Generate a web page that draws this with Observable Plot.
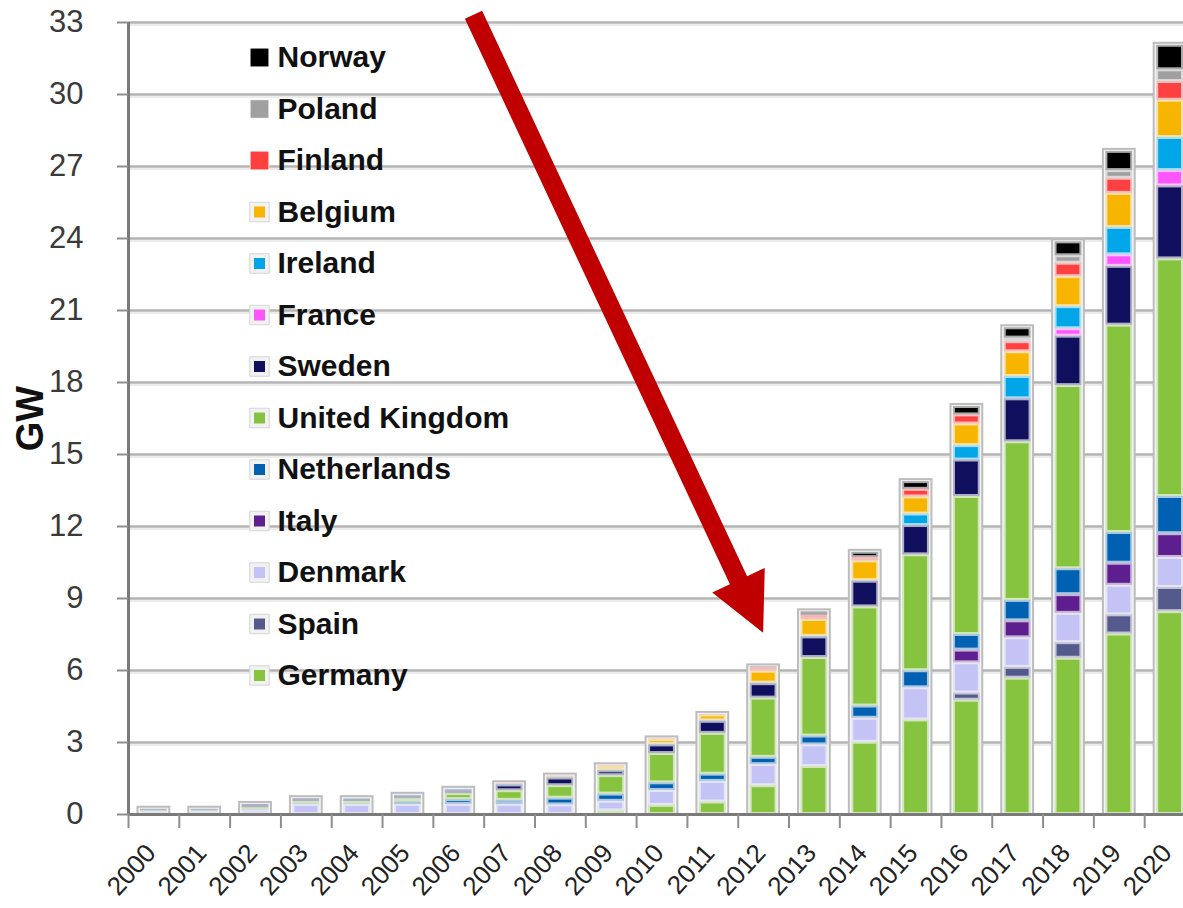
<!DOCTYPE html>
<html>
<head>
<meta charset="utf-8">
<script src="https://cdn.jsdelivr.net/npm/d3@7"></script>
<script src="https://cdn.jsdelivr.net/npm/@observablehq/plot@0.6"></script>
<style>
  html, body { margin: 0; padding: 0; background: #fff; }
  #chart { width: 1183px; height: 908px; overflow: hidden; }
</style>
</head>
<body>
<div id="chart"></div>
<script>
// ---------- data (GW) ----------
const years = d3.range(2000, 2021).map(String);
const countries = ["Germany", "Spain", "Denmark", "Italy", "Netherlands", "United Kingdom",
  "Sweden", "France", "Ireland", "Belgium", "Finland", "Poland", "Norway"];
const colors = ["#86c440", "#555a8c", "#c3c3f5", "#5f1e8f", "#0061b3", "#86c440",
  "#100f5e", "#ff55ff", "#00a6e8", "#f7b500", "#ff4040", "#a0a0a0", "#000000"];

const germany     = [0,0,0,0,0,0,0,0,0,0.15,0.38,0.52,1.2,2.0,3.01,3.94,4.76,5.68,6.51,7.52,8.45];
const spain       = [0,0,0,0,0,0,0,0,0,0,0,0,0,0,0,0,0.3,0.45,0.65,0.8,1.01];
const denmark     = [0.12,0.12,0.18,0.42,0.42,0.42,0.42,0.42,0.4,0.4,0.62,0.86,0.88,0.9,1.0,1.34,1.26,1.23,1.22,1.23,1.25];
const italy       = [0,0,0,0,0,0,0,0,0,0,0,0,0,0,0,0,0.53,0.71,0.78,0.92,0.99];
const netherlands = [0.02,0.02,0.02,0.02,0.02,0.1,0.2,0.17,0.28,0.3,0.32,0.3,0.3,0.37,0.51,0.71,0.65,0.85,1.08,1.28,1.55];
const uk          = [0.03,0.03,0.08,0.1,0.1,0.14,0.25,0.4,0.52,0.77,1.22,1.7,2.47,3.27,4.13,4.83,5.75,6.61,7.63,8.64,9.9];
const sweden      = [0.05,0.05,0.14,0.12,0.1,0.12,0.15,0.24,0.32,0.2,0.36,0.5,0.6,0.86,1.07,1.22,1.52,1.79,2.06,2.45,3.04];
const france      = [0,0,0,0,0,0,0,0,0,0,0,0,0,0,0,0,0,0,0.31,0.48,0.64];
const ireland     = [0,0,0,0,0.02,0.02,0.03,0.025,0.025,0.025,0.025,0.025,0.025,0.025,0.025,0.48,0.6,0.93,0.92,1.14,1.38];
const belgium     = [0,0,0,0,0,0,0,0,0.03,0.16,0.2,0.24,0.495,0.7,0.82,0.71,0.9,1.03,1.25,1.42,1.55];
const finland     = [0,0,0,0,0,0,0,0.025,0.025,0.025,0.025,0.025,0.15,0.17,0.14,0.32,0.38,0.42,0.56,0.63,0.78];
const poland      = [0,0,0,0,0,0,0,0,0,0,0,0,0,0,0,0,0,0.15,0.31,0.32,0.49];
const norway      = [0,0,0,0,0,0,0,0,0,0,0,0,0.03,0.15,0.22,0.32,0.35,0.43,0.58,0.8,1.02];

const yTicks = [0, 3, 6, 9, 12, 15, 18, 21, 24, 27, 30, 33];
const yLabel = "GW";
// annotation arrow: from (year, fraction of band, GW) to (year, fraction, GW)
const arrowFrom = {year: "2006", offset: 0.3, gw: 33.3};
const arrowTo   = {year: "2012", offset: 0.0, gw: 7.55};

// ---------- table ----------
const series = [germany, spain, denmark, italy, netherlands, uk, sweden, france, ireland, belgium, finland, poland, norway];
const long = countries.flatMap((c, ci) => years.map((yr, i) => ({year: yr, country: c, value: series[ci][i]})));
const legendOrder = countries.slice().reverse();
const colorOf = Object.fromEntries(countries.map((c, i) => [c, colors[i]]));

const font = "Liberation Sans, Arial, Helvetica, sans-serif";
const xRange = [128, 1195];
const step = (xRange[1] - xRange[0]) / years.length;

// legend marks
const legendMarks = legendOrder.flatMap((c, i) => {
  const dy = 35 + i * 51.5;
  const big = i < 3;
  return [
    Plot.dot([c], {frameAnchor: "top-left", dx: 131, dy, symbol: "square", r: 11, fill: big ? "#ffffff" : "#f2f2f2", stroke: big ? "none" : "#d6d6d6", strokeWidth: 1}),
    Plot.dot([c], {frameAnchor: "top-left", dx: 131, dy, symbol: "square", r: big ? 9.8 : 6.2, fill: colorOf[c], stroke: big ? colorOf[c] : "none", strokeOpacity: 0.5, strokeWidth: 1}),
    Plot.text([c], {frameAnchor: "top-left", dx: 149, dy, text: d => d, textAnchor: "start", lineAnchor: "middle", fontSize: 30, fontWeight: "bold", fill: "#111"})
  ];
});

// arrow (function mark using the plot's scales)
function arrowMark(index, scales) {
  const X = scales.x, Y = scales.y;
  const bw = X.bandwidth ? X.bandwidth() : 0;
  const px = p => X(p.year) + bw / 2 + p.offset * step;
  const sx = px(arrowFrom), sy = Y(arrowFrom.gw);
  const tx = px(arrowTo), ty = Y(arrowTo.gw);
  const len = Math.hypot(tx - sx, ty - sy);
  const ux = (tx - sx) / len, uy = (ty - sy) / len;
  const nx = -uy, ny = ux;
  const hw = 9.5, hh = 29, hl = 58;
  const bx = tx - ux * hl, by = ty - uy * hl;
  const pts = [
    [sx + nx * hw, sy + ny * hw], [bx + nx * hw, by + ny * hw], [bx + nx * hh, by + ny * hh],
    [tx, ty], [bx - nx * hh, by - ny * hh], [bx - nx * hw, by - ny * hw], [sx - nx * hw, sy - ny * hw]
  ];
  const path = d3.create("svg:path")
    .attr("d", "M" + pts.map(p => p.join(",")).join("L") + "Z")
    .attr("fill", "#c00000");
  return path.node();
}

const chart = Plot.plot({
  width: 1183,
  height: 908,
  marginLeft: 128,
  marginRight: 0,
  marginTop: 22,
  marginBottom: 94,
  style: {fontFamily: font, background: "#ffffff", overflow: "hidden"},
  x: {type: "band", domain: years, range: xRange, padding: 0, round: false, axis: null},
  y: {domain: [0, 33], axis: null},
  color: {domain: countries, range: colors},
  marks: [
    // grid
    Plot.ruleY(yTicks.slice(1), {dy: 2.5, stroke: "#ececec", strokeWidth: 2}),
    Plot.ruleY(yTicks.slice(1), {stroke: "#b3b3b3", strokeWidth: 2.5}),
    // column frames (totals)
    Plot.barY(long, Plot.groupX({y: "sum"}, {x: "year", y: "value", fill: "#f4f4f4", stroke: "#bcbcbc", strokeWidth: 2, insetLeft: 9.5, insetRight: 9.5, insetTop: -2})),
    // tinted edges
    Plot.barY(long, {x: "year", y: "value", fill: "country", fillOpacity: 0.3, order: countries, insetLeft: 12, insetRight: 12}),
    // colored cores
    Plot.barY(long, {x: "year", y: "value", fill: "country", order: countries, insetLeft: 14, insetRight: 14, insetTop: 2, insetBottom: 2}),
    // axis lines
    Plot.ruleY([0], {stroke: "#7a7a7a", strokeWidth: 3}),
    Plot.ruleX([years[0]], {x: d => d, dx: -step / 2, y1: 0, y2: 33, stroke: "#7a7a7a", strokeWidth: 3}),
    // x boundary ticks
    Plot.ruleX(years, {x: d => d, dx: -step / 2, y1: 0, y2: 0, insetBottom: -14, stroke: "#8e8e8e", strokeWidth: 2}),
    // y ticks
    Plot.axisY({ticks: yTicks, tickSize: 11, tickPadding: 34, fontSize: 31, fill: "#3a3a3a", stroke: "#8e8e8e", strokeWidth: 2, label: null, tickFormat: d => String(d)}),
    // y title
    Plot.text([yLabel], {frameAnchor: "left", dx: -98, rotate: -90, text: d => d, textAnchor: "middle", lineAnchor: "middle", fontSize: 38, fontWeight: "bold", fill: "#111"}),
    // x labels
    Plot.axisX({tickSize: 0, tickPadding: 34, dx: -3, tickRotate: -48, fontSize: 26, fill: "#222", label: null}),
    ...legendMarks,
    arrowMark
  ]
});

document.getElementById("chart").appendChild(chart);
</script>
</body>
</html>
